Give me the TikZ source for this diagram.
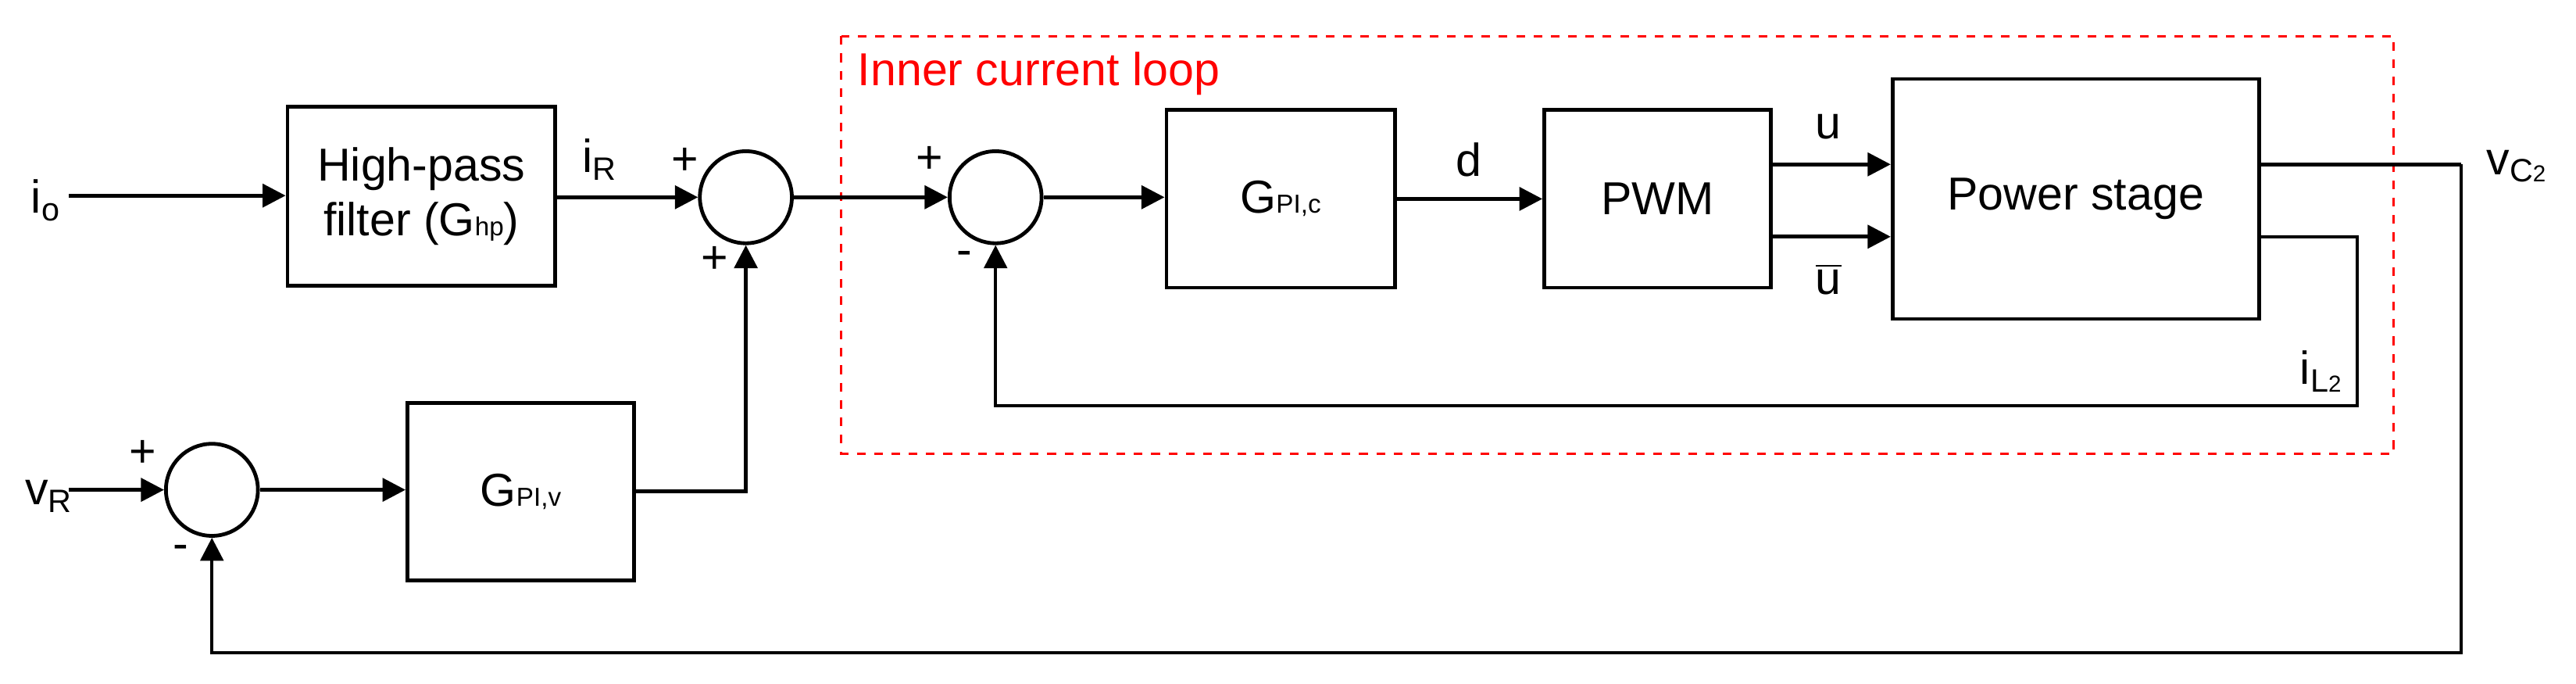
\documentclass[tikz,border=0pt]{standalone}
\usepackage{fontspec}
\setmainfont{Liberation Sans}
\usetikzlibrary{arrows.meta}

\begin{document}
\begin{tikzpicture}[x=0.02cm, y=-0.02cm, line width=1.3pt,
		every node/.style={font=\fontsize{16}{19}\selectfont},
		block/.style={draw, inner sep=0pt},
		sum/.style={circle, draw, minimum size=56*0.02cm, inner sep=0pt},
		lbl/.style={inner sep=0pt},
		sig/.style={-{Triangle[length=8pt, width=8pt]}}]
	\useasboundingbox (0,0) rectangle (1568,416);

	% inner current loop frame
	\draw[red, dashed, line width=0.9pt] (512,22) rectangle (1457,276);
	\node[lbl, red, anchor=west] (title) at (521,45) {Inner current loop};

	% blocks
	\node[block, minimum width=163*0.02cm, minimum height=109*0.02cm, align=center] (hp) at (256.5,119.5) {High-pass\\filter (G{\small hp})};
	\node[block, minimum width=139*0.02cm, minimum height=108*0.02cm] (gpic) at (779.5,121) {G{\small PI,c}};
	\node[block, minimum width=138*0.02cm, minimum height=108*0.02cm] (pwm) at (1009,121) {PWM};
	\node[block, minimum width=223*0.02cm, minimum height=146*0.02cm] (ps) at (1263.5,121) {Power stage};
	\node[block, minimum width=138*0.02cm, minimum height=108*0.02cm] (gpiv) at (317,299) {G{\small PI,v}};

	% summing junctions
	\node[sum] (s1) at (454,120) {};
	\node[sum] (s2) at (606,120) {};
	\node[sum] (s3) at (129,298) {};

	% inputs and corners
	\node[lbl] (io) at (28,122) {i\textsubscript{o}};
	\node[lbl] (vr) at (30,302) {v\textsubscript{R}};
	\coordinate (iin) at (42,119);
	\coordinate (vin) at (42,298);
	\coordinate (uo) at (1375,100);
	\coordinate (ubo) at (1375,144);
	\coordinate (vc) at (1498,100);
	\coordinate (il) at (1435,144);

	% forward path
	\draw[sig] (iin) -- (hp.west |- iin);
	\draw[sig] (hp.east |- s1) -- (s1.west);
	\draw[sig] (s1.east) -- (s2.west);
	\draw[sig] (s2.east) -- (gpic.west |- s2);
	\draw[sig] (gpic.east) -- (pwm.west);
	\draw[sig] (pwm.east |- uo) -- (ps.west |- uo);
	\draw[sig] (pwm.east |- ubo) -- (ps.west |- ubo);
	\draw[sig] (vin) -- (s3.west);
	\draw[sig] (s3.east) -- (gpiv.west |- s3);
	\draw[sig] (gpiv.east) -| (s1.south);

	% feedback paths
	\draw (uo) -- (vc);
	\draw[sig, line width=1.1pt] (vc) -- (1498,397) -| (s3.south);
	\draw[sig, line width=1.1pt] (ubo) -- (il) -- (1435,247) -| (s2.south);

	% labels
	\node[lbl] (ir) at (365,97) {i\textsubscript{R}};
	\node[lbl] (d) at (894,97) {d};
	\node[lbl] (u) at (1113,77) {u};
	\node[lbl] (ub) at (1113,170) {$\overline{\mbox{u}}$};
	\node[lbl] (vcl) at (1532,101) {v\textsubscript{C{\footnotesize 2}}};
	\node[lbl] (ill) at (1413,226) {i\textsubscript{L{\footnotesize 2}}};
	\node[lbl] at (417,98) {+};
	\node[lbl] at (435,158) {+};
	\node[lbl] at (566,97) {+};
	\node[lbl] at (587,157) {-};
	\node[lbl] at (87,276) {+};
	\node[lbl] at (110,336) {-};
\end{tikzpicture}
\end{document}
